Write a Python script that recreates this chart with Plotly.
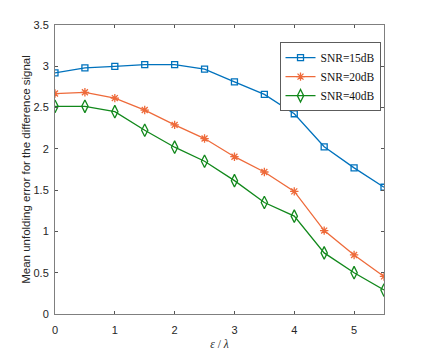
import plotly.graph_objects as go

x_vals = [0, 0.5, 1, 1.5, 2, 2.5, 3, 3.5, 4, 4.5, 5, 5.5]
snr15 = [2.92, 2.98, 3.00, 3.02, 3.02, 2.965, 2.81, 2.66, 2.425, 2.025, 1.77, 1.535]
snr20 = [2.67, 2.685, 2.615, 2.47, 2.29, 2.125, 1.905, 1.72, 1.485, 1.01, 0.715, 0.455]
snr40 = [2.515, 2.515, 2.45, 2.225, 2.02, 1.85, 1.615, 1.35, 1.185, 0.74, 0.50, 0.29]

series = [
    ("SNR=15dB", snr15, "#0072BD", "square-open", 6),
    ("SNR=20dB", snr20, "#EE6A3A", "asterisk-open", 7),
    ("SNR=40dB", snr40, "#11881B", "diamond-tall-open", 9),
]

fig = go.Figure()
for name, ys, color, symbol, size in series:
    fig.add_trace(go.Scatter(
        x=x_vals, y=ys, name=name, mode="lines+markers",
        line=dict(color=color, width=1.3),
        marker=dict(symbol=symbol, size=size, color=color,
                    line=dict(color=color, width=1.3)),
    ))

tick_font = dict(family="Liberation Sans, Arial, sans-serif", size=11, color="#262626")
axis_common = dict(
    showline=True, linecolor="#7f7f7f", linewidth=1, mirror="ticks",
    ticks="inside", ticklen=3, tickcolor="#555555",
    showgrid=False, zeroline=False, tickfont=tick_font,
)

# page body has an 8px margin, so the figure is a bit smaller than the window
fig.update_layout(
    width=417, height=346,
    margin=dict(l=47, r=41, t=17, b=40, autoexpand=False),
    paper_bgcolor="white", plot_bgcolor="white",
    xaxis=dict(range=[0, 5.5], dtick=1, ticklabelstandoff=6, **axis_common,
               title=dict(text="<i>ε</i> / <i>λ</i>", standoff=4,
                          font=dict(family="Liberation Serif, DejaVu Serif, serif", size=11.5, color="#262626"))),
    yaxis=dict(range=[0, 3.5], dtick=0.5, ticklabelstandoff=3, **axis_common,
               title=dict(text="Mean unfolding error for the difference signal", standoff=0,
                          font=dict(family="Liberation Sans, Arial, sans-serif", size=11.5, color="#262626"))),
    legend=dict(
        x=0.99, y=0.94, xanchor="right", yanchor="top",
        bgcolor="white", bordercolor="#333333", borderwidth=0.8,
        font=dict(family="Liberation Serif, DejaVu Serif, serif", size=11.5, color="#111111"),
        itemwidth=30, tracegroupgap=0,
    ),
    showlegend=True,
)

fig.write_html("out.html")
